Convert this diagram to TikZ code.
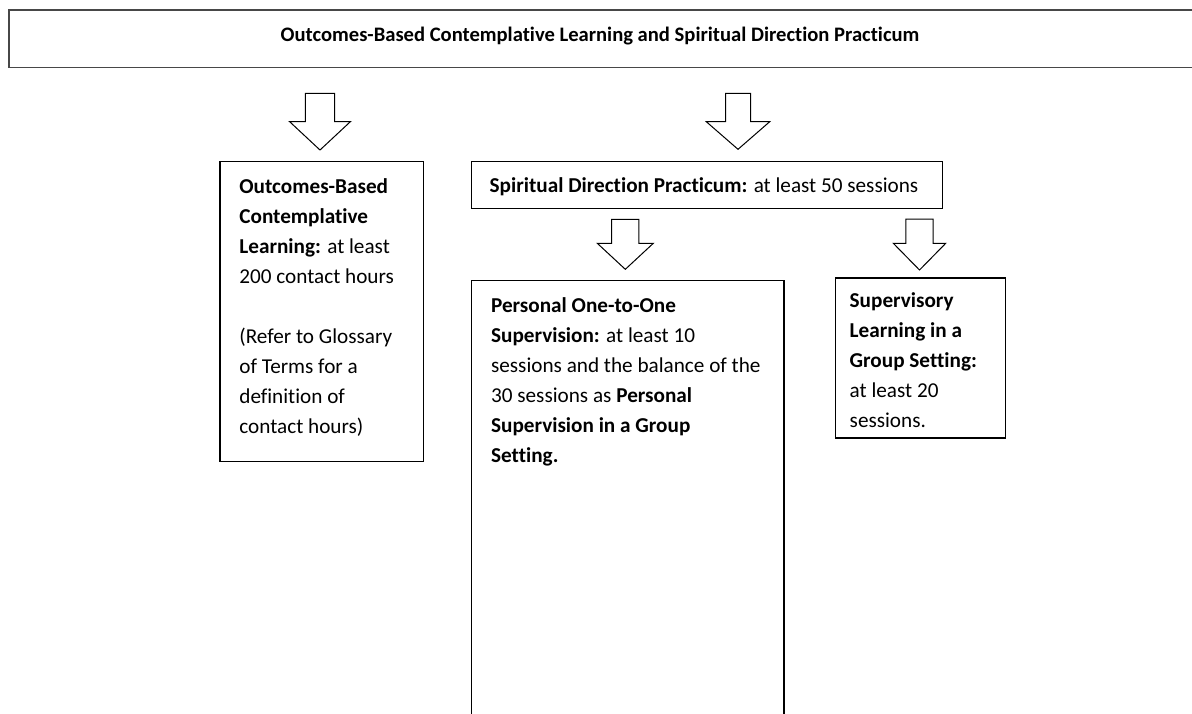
\documentclass[tikz,border=0pt]{standalone}
\usepackage{fontspec}
\setmainfont{Carlito}[Ligatures=NoCommon]
\usetikzlibrary{positioning}
% block arrow: centre x, top y, tip y, shaft half width, head half width, head length
\newcommand{\blockarrow}[6]{%
  \draw[arrowshape] (#1-#4,#2) -- (#1+#4,#2) -- (#1+#4,#3-#6) -- (#1+#5,#3-#6)
    -- (#1,#3) -- (#1-#5,#3-#6) -- (#1-#4,#3-#6) -- cycle;}

\begin{document}
\begin{tikzpicture}[x=0.5pt,y=-0.5pt,
  box/.style={draw=black,line width=0.65pt,inner sep=0pt,anchor=north west},
  headbox/.style={draw=black!72,line width=0.85pt,inner sep=0pt,anchor=north west},
  boxtext/.style={font=\fontsize{10.6}{15}\selectfont,align=left,inner sep=0pt},
  arrowshape/.style={draw=black,line width=0.5pt,fill=white,line join=miter}]
  \useasboundingbox (0,0) rectangle (1192,713);
  % frames
  \node[headbox,minimum width=605pt,minimum height=28.85pt] (head) at (8.3,9) {};
  \node[box,minimum width=101.7pt,minimum height=150pt] (learn) at (219.3,161) {};
  \node[box,minimum width=235.5pt,minimum height=23.65pt] (pract) at (470.7,160.7) {};
  \node[box,minimum width=156.3pt,minimum height=220pt] (one) at (470.7,280) {};
  \node[box,minimum width=85pt,minimum height=80pt] (group) at (835,277.3) {};
  % texts
  \node[font=\fontsize{10.3}{15}\selectfont\bfseries,inner sep=0pt,anchor=base] (headtxt) at (600,41)
    {Outcomes-Based Contemplative Learning and Spiritual Direction Practicum};
  \node[boxtext,below right=5.5pt and 9.85pt of learn.north west] (learntxt)
    {\strut\textbf{Outcomes-Based}\\ \textbf{Contemplative}\\ \textbf{Learning:} at least\\
     200 contact hours\\[15pt] (Refer to Glossary\\ of Terms for a\\ definition of\\ contact hours)};
  \node[boxtext,below right=5pt and 9.3pt of pract.north west] (practtxt)
    {\strut\textbf{Spiritual Direction Practicum:} at least 50 sessions};
  \node[boxtext,below right=5.35pt and 10pt of one.north west] (onetxt)
    {\strut\textbf{Personal One-to-One}\\ \textbf{Supervision:} at least 10\\
     sessions and the balance of the\\ 30 sessions as \textbf{Personal}\\
     \textbf{Supervision in a Group}\\ \textbf{Setting.}};
  \node[boxtext,below right=4.5pt and 7.15pt of group.north west] (grouptxt)
    {\strut\textbf{Supervisory}\\ \textbf{Learning in a}\\ \textbf{Group Setting:}\\
     at least 20\\ sessions.};
  % block arrows
  \blockarrow{320}{93.3}{150}{14.65}{30.35}{28.3}
  \blockarrow{738}{93.3}{149.3}{12.5}{31.7}{27.6}
  \blockarrow{625.3}{219.3}{269.3}{13.65}{28}{26}
  \blockarrow{919.5}{219}{270}{13.65}{26.2}{26.7}
\end{tikzpicture}
\end{document}
